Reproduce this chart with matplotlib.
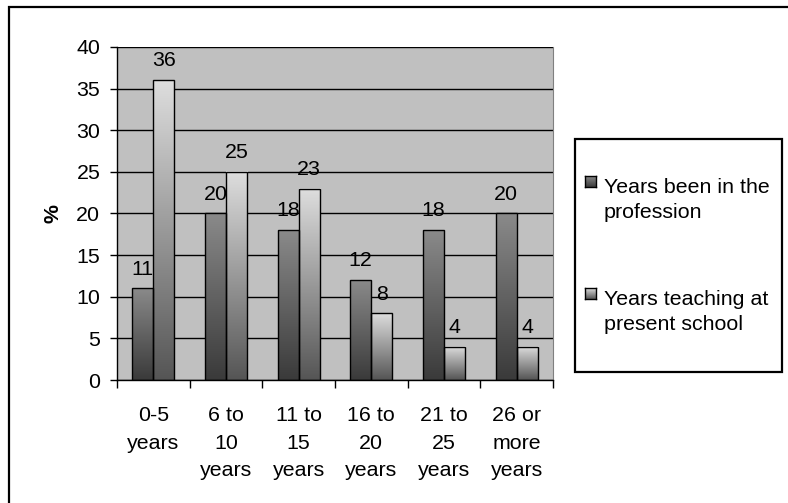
import numpy as np
import matplotlib
matplotlib.use("Agg")
import matplotlib.pyplot as plt
from matplotlib.colors import LinearSegmentedColormap
from matplotlib.patches import Rectangle

plt.rcParams['font.family'] = ['Liberation Sans', 'DejaVu Sans']

categories = ["0-5\nyears", "6 to\n10\nyears", "11 to\n15\nyears",
              "16 to\n20\nyears", "21 to\n25\nyears", "26 or\nmore\nyears"]
series_names = ["Years been in the\nprofession", "Years teaching at\npresent school"]
profession = [11, 20, 18, 12, 18, 20]
present_school = [36, 25, 23, 8, 4, 4]
y_ticks = [0, 5, 10, 15, 20, 25, 30, 35, 40]

W, H = 788, 503
FS = 15.4

fig = plt.figure(figsize=(W / 100, H / 100), dpi=100)
fig.patch.set_facecolor("white")

# outer chart frame (top and left edges visible, rest runs off the canvas)
fig.patches.append(Rectangle((9 / W, -0.05), 1.1, (H - 7) / H + 0.05,
                             transform=fig.transFigure, fill=False,
                             edgecolor="black", lw=1.6, zorder=0))

ax = fig.add_axes([117 / W, (H - 380) / H, (553 - 117) / W, (380 - 47) / H])
ax.set_facecolor("#c0c0c0")

cmap_dark = LinearSegmentedColormap.from_list("dark", ["#3a3a3a", "#8a8a8a"])
cmap_light = LinearSegmentedColormap.from_list("light", ["#555555", "#dedede"])
grad = np.linspace(0, 1, 256).reshape(-1, 1)

x = np.arange(len(categories))
bw = 0.29
bars1 = ax.bar(x - bw / 2, profession, bw, facecolor="none", edgecolor="black",
               lw=1.0, zorder=3)
bars2 = ax.bar(x + bw / 2, present_school, bw, facecolor="none", edgecolor="black",
               lw=1.0, zorder=3)

for bars, cmap in ((bars1, cmap_dark), (bars2, cmap_light)):
    for b in bars:
        x0, w, h = b.get_x(), b.get_width(), b.get_height()
        ax.imshow(grad, cmap=cmap, origin="lower", aspect="auto",
                  extent=(x0, x0 + w, 0, h), zorder=2, interpolation="bilinear")

for bars, vals in ((bars1, profession), (bars2, present_school)):
    for b, v in zip(bars, vals):
        ax.annotate(f"{v}", (b.get_x() + b.get_width() / 2, v),
                    xytext=(0, 10), textcoords="offset points",
                    ha="center", va="baseline", fontsize=FS)

ax.set_xlim(-0.5, len(categories) - 0.5)
ax.set_ylim(0, 40)
ax.set_yticks(y_ticks)
ax.yaxis.grid(True, color="black", lw=1.0, zorder=1)
ax.set_axisbelow(True)

ax.set_xticks(x)
ax.set_xticklabels(categories, fontsize=FS, linespacing=1.55)
ax.set_xticks(np.arange(len(categories) + 1) - 0.5, minor=True)
ax.tick_params(axis="x", which="major", length=0, pad=19)
ax.tick_params(axis="x", which="minor", length=6, width=1, color="black")
ax.tick_params(axis="y", length=5, width=1, pad=7, labelsize=FS)

for s in ("left", "bottom"):
    ax.spines[s].set_color("black")
    ax.spines[s].set_linewidth(1.0)
ax.spines["top"].set_visible(False)
ax.spines["right"].set_color("#808080")

ax.set_ylabel("%", fontsize=FS, fontweight="bold", labelpad=10)

# legend box
lx0, lx1, ly0, ly1 = 575, 782, 139, 372
fig.patches.append(Rectangle((lx0 / W, (H - ly1) / H), (lx1 - lx0) / W, (ly1 - ly0) / H,
                             transform=fig.transFigure, fill=False,
                             edgecolor="black", lw=1.6, zorder=5))
entry_tops = [176, 288]
for top, name, cmap in zip(entry_tops, series_names, (cmap_dark, cmap_light)):
    sw = fig.add_axes([585 / W, (H - top - 11) / H, 11 / W, 11 / H])
    sw.imshow(grad, cmap=cmap, origin="lower", aspect="auto")
    sw.set_xticks([])
    sw.set_yticks([])
    for s in sw.spines.values():
        s.set_linewidth(1.0)
        s.set_color("black")
    fig.text(604 / W, (H - top - 2) / H, name, fontsize=FS, ha="left", va="top",
             linespacing=1.4)

fig.savefig("out.png", dpi=100)
